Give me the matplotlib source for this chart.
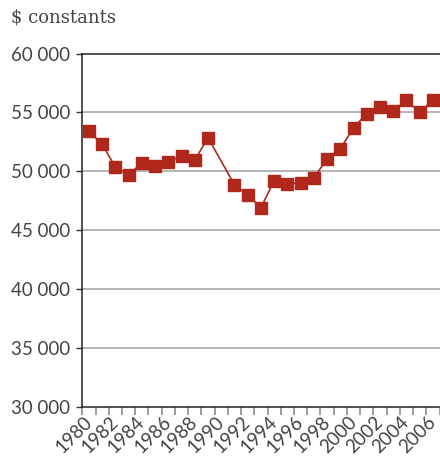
import matplotlib
matplotlib.use("Agg")
import matplotlib.pyplot as plt
import numpy as np

years = list(range(1980, 2007))
# 1990 has no value: the line joins 1989 to 1991
values = [53400, 52300, 50350, 49700, 50700, 50450, 50800, 51300, 50950, 52850,
          np.nan, 48850, 48000, 46900, 49200, 48950, 49000, 49450, 51050, 51900,
          53700, 54900, 55450, 55100, 56050, 55000, 56050]
y_ticks = [30000, 35000, 40000, 45000, 50000, 55000, 60000]
y_labels = ["30 000", "35 000", "40 000", "45 000", "50 000", "55 000", "60 000"]
title = "$ constants"

red = "#b0271c"
txt = "#444444"

fig = plt.figure(figsize=(4.4, 4.62), dpi=100)
ax = fig.add_axes([0.187, 0.120, 0.812, 0.764])

x = np.arange(len(years))
v = np.array(values, dtype=float)
ok = ~np.isnan(v)
ax.plot(x[ok], v[ok], "-s", color=red, lw=1.2, markersize=8.5,
        markerfacecolor=red, markeredgecolor=red, zorder=3)

ax.set_xlim(-0.5, len(years) - 0.5)
ax.set_ylim(30000, 60000)

ax.set_yticks(y_ticks)
ax.set_yticklabels(y_labels)
for t in y_ticks[1:-1]:
    ax.axhline(t, color="#b4b4b4", lw=1.4, zorder=1)

ax.set_xticks(x[::2])
ax.set_xticklabels([str(y) for y in years[::2]], rotation=45, ha="right",
                   va="center", rotation_mode="anchor")
ax.set_xticks(np.arange(len(years) + 1) - 0.5, minor=True)
ax.tick_params(axis="x", which="major", length=0, pad=9, labelsize=13.5,
               labelcolor=txt)
ax.tick_params(axis="x", which="minor", length=5.5, width=1.2, color="#8c8c8c")
ax.tick_params(axis="y", length=4.5, width=1, color="#333333", pad=4,
               labelsize=13.5, labelcolor=txt)
for lab in ax.get_xticklabels() + ax.get_yticklabels():
    lab.set_family("Lato")

ax.spines["right"].set_visible(False)
for s in ["left", "top", "bottom"]:
    ax.spines[s].set_color("#222222")
    ax.spines[s].set_linewidth(1.1)

fig.text(0.025, 0.962, title, fontsize=13, color=txt, family="DejaVu Serif",
         ha="left", va="center")

fig.savefig("out.png", dpi=100)
